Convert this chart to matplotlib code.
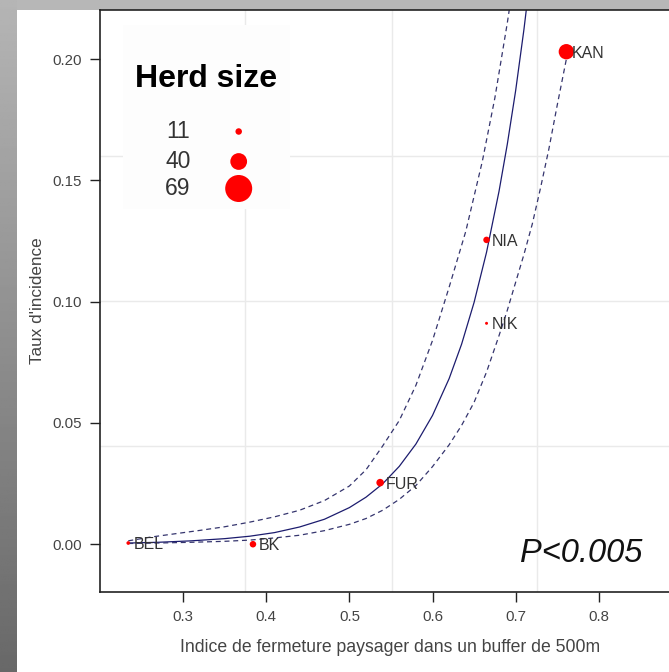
import numpy as np
import matplotlib
matplotlib.use("Agg")
import matplotlib.pyplot as plt
from matplotlib.patches import Rectangle

plt.rcParams['font.family'] = ['Liberation Sans', 'DejaVu Sans']

# herds: landscape closure index, incidence rate, herd size
herds = ['BEL', 'BK', 'FUR', 'NIA', 'NIK', 'KAN']
closure = [0.234, 0.384, 0.537, 0.665, 0.665, 0.761]
incidence = [0.0005, 0.0, 0.0254, 0.1255, 0.0911, 0.2031]
herd_size = [3, 11, 14, 11, 1, 36]

# fitted curve and confidence band
fit_x = [0.235, 0.27, 0.31, 0.35, 0.38, 0.41, 0.44, 0.47, 0.50, 0.52, 0.54,
         0.56, 0.58, 0.60, 0.62, 0.635, 0.65, 0.665, 0.68, 0.69, 0.70, 0.71, 0.72]
fit_y = [0.0005, 0.0008, 0.0014, 0.0023, 0.0033, 0.0048, 0.0071, 0.0103,
         0.0151, 0.0194, 0.0249, 0.0321, 0.0413, 0.0531, 0.0683, 0.0825,
         0.0997, 0.1204, 0.1455, 0.1650, 0.1870, 0.2123, 0.2408]

upper_x = [0.234, 0.26, 0.29, 0.32, 0.35, 0.38, 0.41, 0.44, 0.47, 0.50, 0.52,
           0.54, 0.56, 0.58, 0.60, 0.62, 0.64, 0.66, 0.675, 0.69, 0.70]
upper_y = [0.0014, 0.0029, 0.0043, 0.0057, 0.0072, 0.0091, 0.0113, 0.0140,
           0.0180, 0.0240, 0.0307, 0.0405, 0.0510, 0.0655, 0.0840, 0.1060,
           0.1290, 0.1580, 0.1840, 0.2150, 0.2380]

lower_x = [0.234, 0.27, 0.31, 0.35, 0.38, 0.41, 0.44, 0.47, 0.50, 0.52, 0.54,
           0.56, 0.58, 0.60, 0.62, 0.635, 0.65, 0.665, 0.68, 0.69, 0.70, 0.71,
           0.72, 0.73, 0.74, 0.75, 0.761]
lower_y = [0.0003, 0.0005, 0.0008, 0.0012, 0.0017, 0.0026, 0.0037, 0.0056,
           0.0082, 0.0106, 0.0140, 0.0185, 0.0242, 0.0320, 0.0410, 0.0490,
           0.0585, 0.0710, 0.0860, 0.0965, 0.1080, 0.1195, 0.1320, 0.1470,
           0.1630, 0.1810, 0.2000]

legend_sizes = [11, 40, 69]


def marker_area(size):
    # diameter in pixels grows linearly with herd size
    d_px = 6.5 + (size - 11) * 20.5 / 58.0
    return (d_px * 0.72) ** 2


W, H = 669, 672
fig = plt.figure(figsize=(W / 100, H / 100), dpi=100)
fig.patch.set_facecolor('white')

# grey frame around the panel
top_ax = fig.add_axes([0, (H - 10) / H, 1, 10 / H])
top_ax.axis('off')
top_ax.add_patch(Rectangle((0, 0), 1, 1, color='#b7b7b7', transform=top_ax.transAxes))
left_ax = fig.add_axes([0, 0, 17 / W, 1])
grad = np.linspace(0.71, 0.41, 256).reshape(-1, 1)
left_ax.imshow(grad, aspect='auto', cmap='gray', vmin=0, vmax=1, extent=[0, 1, 0, 1])
left_ax.axis('off')

ax = fig.add_axes([100 / W, 80 / H, (W - 100) / W, 582 / H])
ax.set_xlim(0.2, 0.8845)
ax.set_ylim(-0.0197, 0.2203)

for gx in [0.3749, 0.5507, 0.7262]:
    ax.axvline(gx, color='#eaeaea', lw=1.0, zorder=0)
for gy in [0.1601, 0.1003, 0.0405]:
    ax.axhline(gy, color='#eaeaea', lw=1.0, zorder=0)

ax.plot(fit_x, fit_y, color='#1c1c6e', lw=0.9, zorder=2)
ax.plot(upper_x, upper_y, color='#35356e', lw=0.9, ls=(0, (4, 3)), zorder=2)
ax.plot(lower_x, lower_y, color='#35356e', lw=0.9, ls=(0, (4, 3)), zorder=2)

ax.scatter(closure, incidence, s=[marker_area(s) for s in herd_size],
           color='#ff0000', edgecolors='none', zorder=3)
for name, x, y in zip(herds, closure, incidence):
    ax.annotate(name, (x, y), xytext=(4, -1), textcoords='offset points',
                ha='left', va='center', fontsize=11.5, color='#333333', zorder=4)

ax.text(0.853, -0.004, 'P<0.005', fontsize=23.5, style='italic', ha='right',
        va='center', color='#111111')

ax.set_xticks([0.3, 0.4, 0.5, 0.6, 0.7, 0.8])
ax.set_xticklabels(['0.3', '0.4', '0.5', '0.6', '0.7', '0.8'])
ax.set_yticks([0.0, 0.05, 0.10, 0.15, 0.20])
ax.set_yticklabels(['0.00', '0.05', '0.10', '0.15', '0.20'])
ax.tick_params(axis='both', direction='out', length=7, width=1, color='#222222',
               labelsize=10.8, labelcolor='#444444')
ax.tick_params(axis='y', pad=6)
ax.tick_params(axis='x', pad=6)
ax.spines['right'].set_visible(False)
for sp in ['left', 'top', 'bottom']:
    ax.spines[sp].set_color('#222222')
    ax.spines[sp].set_linewidth(1.2)

ax.set_xlabel('Indice de fermeture paysager dans un buffer de 500m',
              fontsize=12.7, color='#444444')
ax.set_ylabel("Taux d'incidence", fontsize=12.3, color='#444444')
ax.xaxis.set_label_coords(0.51, -0.081)
ax.yaxis.set_label_coords(-0.096, 0.5)

# herd size legend box, drawn above the main axes
leg_ax = fig.add_axes([123 / W, (H - 209) / H, 167 / W, 184 / H], zorder=5)
leg_ax.set_xlim(123, 290)
leg_ax.set_ylim(209, 25)
leg_ax.set_facecolor('#fdfdfd')
for sp in leg_ax.spines.values():
    sp.set_visible(False)
leg_ax.set_xticks([])
leg_ax.set_yticks([])
leg_ax.text(206, 79, 'Herd size', fontsize=23, fontweight='bold',
            ha='center', va='center', color='black')
rows_y = [131.5, 161.5, 188.5]
for s, ry in zip(legend_sizes, rows_y):
    leg_ax.text(178, ry, str(s), fontsize=16.5, ha='center', va='center',
                color='#333333', fontstretch='condensed')
leg_ax.scatter([238.7] * 3, rows_y, s=[marker_area(s) for s in legend_sizes],
               color='#ff0000', edgecolors='none')

fig.savefig('out.png', dpi=100)
